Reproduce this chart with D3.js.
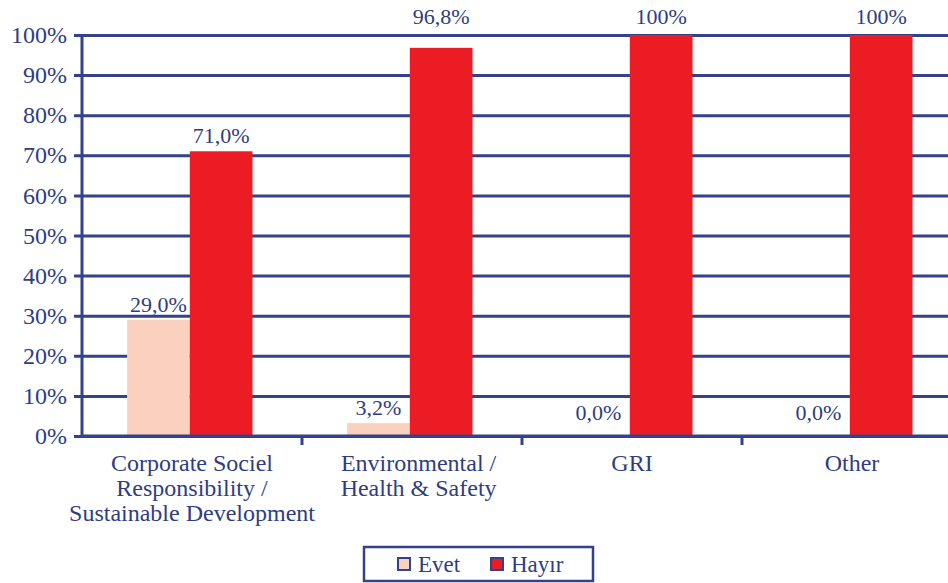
<!DOCTYPE html>
<html>
<head>
<meta charset="utf-8">
<script src="https://cdn.jsdelivr.net/npm/d3@7"></script>
<style>
  body { margin: 0; background: #fff; }
  svg text { font-family: 'Liberation Serif', 'DejaVu Serif', serif; fill: #2f3d80; }
</style>
</head>
<body>
<div id="chart"></div>
<script>
const categories = [
  ['Corporate Sociel', 'Responsibility /', 'Sustainable Development'],
  ['Environmental /', 'Health & Safety'],
  ['GRI'],
  ['Other']
]
const series = ['Evet', 'Hayır']
const evet = [29.0, 3.2, 0, 0]
const hayir = [71.0, 96.8, 100, 100]
const evetLabels = ['29,0%', '3,2%', '0,0%', '0,0%']
const hayirLabels = ['71,0%', '96,8%', '100%', '100%']
const yTicks = [0, 10, 20, 30, 40, 50, 60, 70, 80, 90, 100]

const width = 948
const height = 583
const margin = { top: 35, left: 82, right: -14, bottom: 147 }
const innerW = width - margin.left - margin.right
const innerH = height - margin.top - margin.bottom

const navy = '#33428a'
const colors = { Evet: '#fad0be', Hayır: '#ec1c24' }

const svg = d3.select('#chart')
  .append('svg')
  .attr('width', width)
  .attr('height', height)

const g = svg.append('g')
  .attr('transform', `translate(${margin.left},${margin.top})`)

const x0 = d3.scaleBand()
  .domain(d3.range(categories.length))
  .range([0, innerW])

const x1 = d3.scaleBand()
  .domain(series)
  .range([x0.bandwidth() * 0.205, x0.bandwidth() * 0.775])

const y = d3.scaleLinear().domain([0, 100]).range([innerH, 0])

// gridlines + left axis
const yAxis = d3.axisLeft(y)
  .tickValues(yTicks)
  .tickFormat(d => d + '%')
  .tickSize(-innerW - 8)
  .tickPadding(6)

const yg = g.append('g')
  .attr('class', 'y-axis')
  .call(yAxis)
yg.select('.domain').remove()
yg.selectAll('.tick line')
  .attr('x1', -8)
  .attr('x2', innerW)
  .attr('stroke', navy)
  .attr('stroke-width', 3)
yg.selectAll('.tick text')
  .attr('x', -15)
  .style('font-size', '24px')

// left axis line
g.append('line')
  .attr('x1', 0).attr('x2', 0)
  .attr('y1', 0).attr('y2', innerH)
  .attr('stroke', navy)
  .attr('stroke-width', 3)

// bars
const groups = g.selectAll('.group')
  .data(categories.map((c, i) => ({ i, values: [evet[i], hayir[i]], labels: [evetLabels[i], hayirLabels[i]] })))
  .enter()
  .append('g')
  .attr('class', 'group')
  .attr('transform', d => `translate(${x0(d.i)},0)`)

groups.selectAll('rect')
  .data(d => d.values.map((v, k) => ({ key: series[k], v })))
  .enter()
  .append('rect')
  .attr('x', d => x1(d.key))
  .attr('width', x1.bandwidth())
  .attr('y', d => y(d.v))
  .attr('height', d => innerH - y(d.v))
  .attr('fill', d => colors[d.key])

// value labels; labels near the top sit above the top gridline
groups.selectAll('.val')
  .data(d => d.values.map((v, k) => ({ key: series[k], v, label: d.labels[k] })))
  .enter()
  .append('text')
  .attr('class', 'val')
  .attr('x', d => x1(d.key) + x1.bandwidth() / 2)
  .attr('y', d => d.v > 90 ? y(100) - 11 : (d.v === 0 ? y(0) - 16 : y(d.v) - 8))
  .attr('text-anchor', 'middle')
  .style('font-size', '22px')
  .text(d => d.label)

// bottom axis
const xg = g.append('g')
  .attr('transform', `translate(0,${innerH})`)
xg.append('line')
  .attr('x1', 0).attr('x2', innerW)
  .attr('stroke', navy)
  .attr('stroke-width', 3)
xg.selectAll('.xtick')
  .data(d3.range(1, categories.length))
  .enter()
  .append('line')
  .attr('x1', d => x0(d)).attr('x2', d => x0(d))
  .attr('y1', 0).attr('y2', 9)
  .attr('stroke', navy)
  .attr('stroke-width', 3)

xg.selectAll('.cat')
  .data(categories)
  .enter()
  .append('text')
  .attr('class', 'cat')
  .attr('text-anchor', 'middle')
  .attr('transform', (d, i) => `translate(${x0(i) + x0.bandwidth() * (i === 1 ? 0.53 : 0.5)},35)`)
  .style('font-size', '24px')
  .each(function(lines) {
    d3.select(this).selectAll('tspan')
      .data(lines)
      .enter()
      .append('tspan')
      .attr('x', 0)
      .attr('dy', (d, k) => k === 0 ? 0 : 25)
      .text(d => d)
  })

// legend
const legend = svg.append('g')
  .attr('transform', 'translate(364,547)')
legend.append('rect')
  .attr('width', 229)
  .attr('height', 34)
  .attr('fill', '#fff')
  .attr('stroke', navy)
  .attr('stroke-width', 2.5)

const items = legend.selectAll('.item')
  .data(series)
  .enter()
  .append('g')
  .attr('transform', (d, i) => `translate(${i === 0 ? 34 : 127},0)`)
items.append('rect')
  .attr('y', 11)
  .attr('width', 12)
  .attr('height', 12)
  .attr('fill', d => colors[d])
  .attr('stroke', navy)
  .attr('stroke-width', 2)
items.append('text')
  .attr('x', 20)
  .attr('y', 25)
  .style('font-size', '23px')
  .text(d => d)
</script>
</body>
</html>
